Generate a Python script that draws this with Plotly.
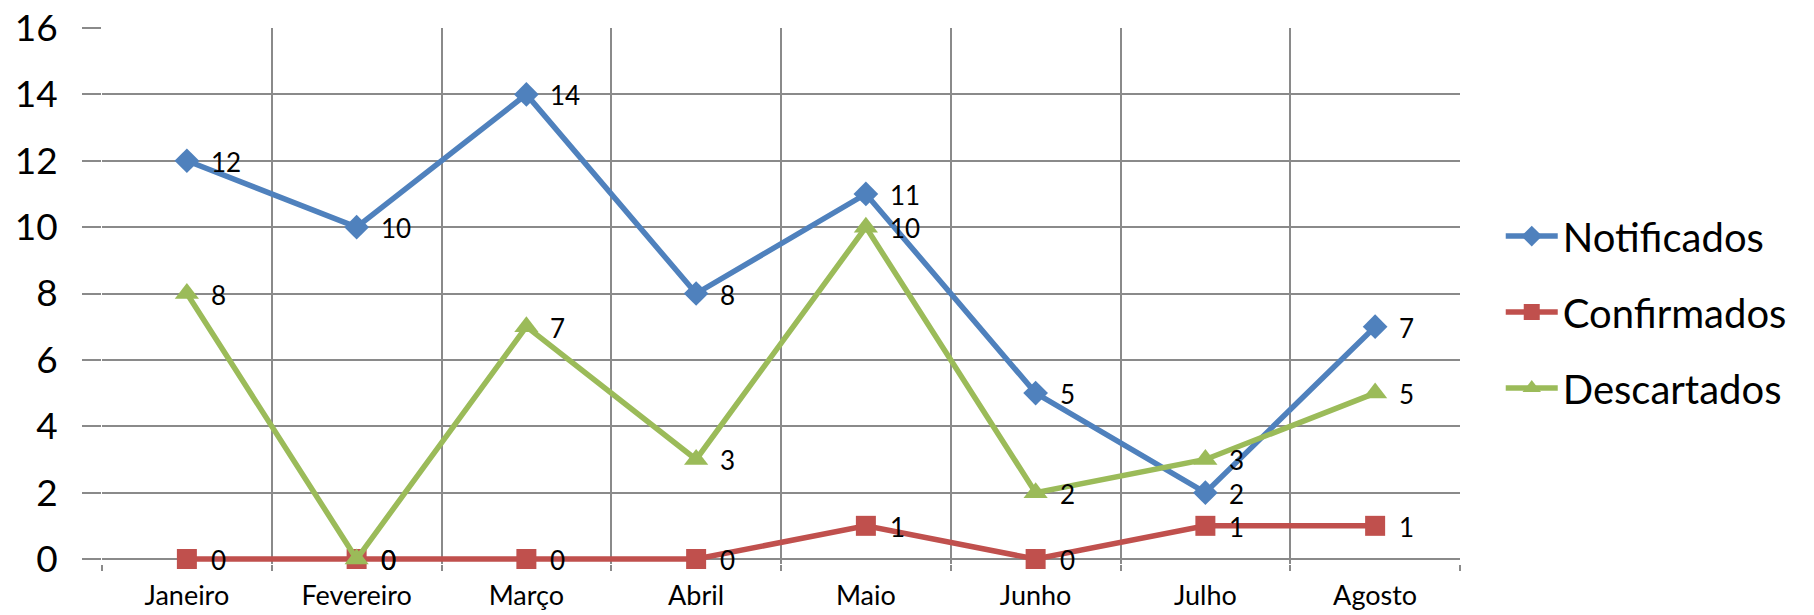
import plotly.graph_objects as go

# Monthly case counts
months = ["Janeiro", "Fevereiro", "Março", "Abril", "Maio", "Junho", "Julho", "Agosto"]
notificados = [12, 10, 14, 8, 11, 5, 2, 7]
confirmados = [0, 0, 0, 0, 1, 0, 1, 1]
descartados = [8, 0, 7, 3, 10, 2, 3, 5]

y_ticks = [0, 2, 4, 6, 8, 10, 12, 14, 16]

FONT = "Lato, 'Open Sans', sans-serif"
GRID = "#8A8A8A"

series = [
    ("Notificados", notificados, "#4F81BD", "diamond", 19),
    ("Confirmados", confirmados, "#C0504D", "square", 20),
    ("Descartados", descartados, "#9BBB59", "triangle-up", 21),
]

x_pos = list(range(len(months)))

fig = go.Figure()
for name, vals, color, symbol, msize in series:
    fig.add_trace(go.Scatter(
        x=x_pos, y=vals, name=name, legendgroup=name,
        mode="lines+markers",
        line=dict(color=color, width=5.5),
        marker=dict(color=color, symbol=symbol, size=msize),
        cliponaxis=False,
    ))

# value labels to the right of each point, drawn above all lines
annotations = []
for name, vals, color, symbol, msize in series:
    for xi, v in zip(x_pos, vals):
        annotations.append(dict(
            x=xi, y=v, xref="x", yref="y", text=str(v),
            showarrow=False, xanchor="left", yanchor="middle",
            xshift=22, yshift=-1,
            font=dict(family=FONT, size=26, color="black"),
        ))

fig.update_layout(
    width=1814, height=615,
    margin=dict(l=102, r=354, t=28, b=51),
    paper_bgcolor="white", plot_bgcolor="white",
    font=dict(family=FONT, color="black"),
    showlegend=True,
    annotations=annotations,
    legend=dict(
        x=1.03, xanchor="left", y=0.47, yanchor="middle",
        font=dict(family=FONT, size=40),
        itemwidth=52, tracegroupgap=21,
        bgcolor="rgba(0,0,0,0)",
    ),
    xaxis=dict(
        range=[-0.5, 7.5], automargin=False,
        tickmode="array", tickvals=x_pos, ticktext=months,
        tickfont=dict(family=FONT, size=27),
        ticks="outside", ticklen=8, tickcolor="rgba(0,0,0,0)",
        showgrid=False, zeroline=False,
        showline=False,
        minor=dict(
            tickvals=[i - 0.5 for i in range(len(months) + 1)],
            showgrid=True, gridcolor=GRID, gridwidth=1.5,
            ticks="outside", ticklen=6, tickcolor=GRID, tickwidth=1.5,
        ),
    ),
    yaxis=dict(
        range=[-0.15, 16], automargin=False,
        tickmode="array", tickvals=y_ticks,
        tickfont=dict(family=FONT, size=37),
        ticks="outside", ticklen=19, tickcolor=GRID, tickwidth=1.5,
        ticklabelstandoff=17,
        showgrid=True, gridcolor=GRID, gridwidth=1.5,
        zeroline=False, showline=False,
    ),
)

fig.write_html("out.html")
